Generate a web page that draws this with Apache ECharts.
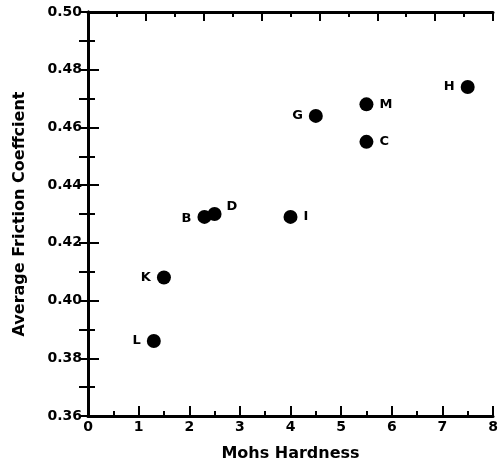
<!DOCTYPE html>
<html><head><meta charset="utf-8">
<script src="https://cdn.jsdelivr.net/npm/echarts@6/dist/echarts.min.js"></script>
<style>html,body{margin:0;padding:0;background:#fff}#c{width:502px;height:467px}</style>
</head><body><div id="c"></div>
<script>
var names = ['L','K','B','D','I','G','M','C','H'];
var hardness = [1.3, 1.5, 2.3, 2.5, 4.0, 4.5, 5.5, 5.5, 7.5];
var friction = [0.386, 0.408, 0.429, 0.430, 0.429, 0.464, 0.468, 0.455, 0.474];
var xTicks = [0,1,2,3,4,5,6,7,8];
var yTicks = ['0.36','0.38','0.40','0.42','0.44','0.46','0.48','0.50'];

var labelPlace = {
  L:{position:'left'}, K:{position:'left'}, B:{position:'left', offset:[0,2]},
  D:{position:'right', offset:[-1,-7]}, I:{position:'right'}, G:{position:'left'},
  M:{position:'right'}, C:{position:'right'}, H:{position:'left'}
};
var font = 'DejaVu Sans, Liberation Sans, Arial, sans-serif';
var data = names.map(function(n,i){
  return {name:n, value:[hardness[i], friction[i]], label:labelPlace[n]};
});
var line3 = {show:true, lineStyle:{color:'#000', width:3}};
function tick(len){ return {show:true, inside:true, length:len, lineStyle:{color:'#000', width:2}}; }
function extraAxis(base){
  base.axisLine = {show:false};
  base.splitLine = {show:false};
  base.axisLabel = {show:false};
  base.type = 'value';
  return base;
}
var chart = echarts.init(document.getElementById('c'));
chart.setOption({
  animation:false,
  backgroundColor:'#fff',
  grid:{left:88, right:9, top:12, bottom:51, containLabel:false},
  xAxis:[{
    type:'value', position:'bottom', min:0, max:8, interval:1,
    axisLine:line3, axisTick:tick(10), splitLine:{show:false},
    axisLabel:{color:'#000', fontFamily:font, fontWeight:'bold', fontSize:14, margin:4,
      formatter:function(v){ return xTicks.indexOf(v)>=0 ? String(v) : ''; }},
    name:'Mohs Hardness', nameLocation:'middle', nameGap:30,
    nameTextStyle:{color:'#000', fontFamily:font, fontWeight:'bold', fontSize:16}
  },
  extraAxis({position:'bottom', min:0, max:8, interval:0.5, axisTick:tick(5)}),
  {
    type:'value', position:'top', min:0, max:14, interval:2,
    axisLine:line3, axisTick:tick(9), splitLine:{show:false}, axisLabel:{show:false}
  },
  extraAxis({position:'top', min:0, max:14, interval:1, axisTick:tick(5)})
  ],
  yAxis:[{
    type:'value', position:'left', min:0.36, max:0.50, interval:0.02,
    axisLine:line3, axisTick:tick(11), splitLine:{show:false},
    axisLabel:{color:'#000', fontFamily:font, fontWeight:'bold', fontSize:14, margin:6,
      formatter:function(v){ var s=v.toFixed(2); return yTicks.indexOf(s)>=0 ? s : ''; }},
    name:'Average Friction Coeffcient', nameLocation:'middle', nameGap:60,
    nameTextStyle:{color:'#000', fontFamily:font, fontWeight:'bold', fontSize:16}
  },
  extraAxis({position:'left', min:0.36, max:0.50, interval:0.01, axisTick:tick(7)}),
  {
    type:'value', position:'right', min:0.36, max:0.50, interval:0.01,
    axisLine:line3, axisTick:tick(9), splitLine:{show:false}, axisLabel:{show:false}
  }],
  series:[{
    type:'scatter', xAxisIndex:0, yAxisIndex:0, symbolSize:14,
    itemStyle:{color:'#000', opacity:1},
    label:{show:true, formatter:'{b}', color:'#000', fontFamily:font, fontWeight:'bold', fontSize:13, distance:6},
    emphasis:{disabled:true},
    data:data
  }]
});
</script></body></html>
